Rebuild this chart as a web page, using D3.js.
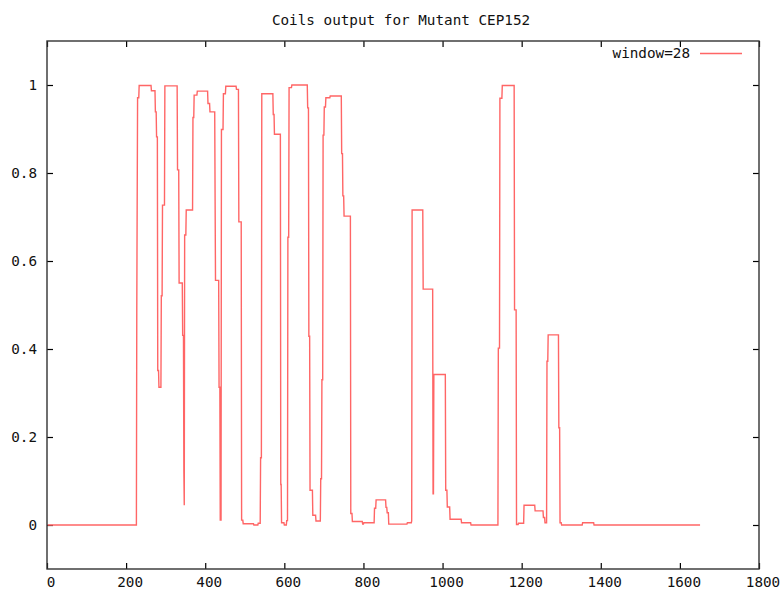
<!DOCTYPE html>
<html>
<head>
<meta charset="utf-8">
<script src="https://cdn.jsdelivr.net/npm/d3@7"></script>
<style>
  html, body { margin: 0; padding: 0; background: #fff; }
  svg { display: block; }
  text { font-family: "DejaVu Sans Mono", monospace; font-size: 14.3px; fill: #111; }
</style>
</head>
<body>
<svg id="chart" width="783" height="589"></svg>
<script>
// Coiled-coil probability per residue (window = 28), stored as the vertices of the profile
const residue = [
  1, 226, 227, 229, 232, 233, 263, 264, 273, 274, 276, 277, 279, 280, 282, 283, 288, 289, 291, 292,
  297, 298, 329, 330, 333, 334, 342, 343, 345, 346, 347, 348, 351, 352, 368, 369, 371, 372, 379, 380,
  406, 407, 411, 412, 424, 425, 426, 434, 435, 437, 438, 440, 441, 445, 446, 451, 452, 478, 479, 484,
  485, 491, 492, 495, 496, 522, 523, 533, 534, 539, 540, 542, 543, 571, 572, 574, 575, 590, 591, 592,
  593, 599, 600, 605, 606, 608, 609, 611, 612, 618, 619, 658, 659, 661, 662, 664, 665, 671, 672, 679,
  680, 691, 692, 694, 695, 697, 698, 700, 701, 704, 705, 715, 716, 744, 745, 747, 748, 750, 751, 767,
  768, 771, 772, 797, 798, 800, 801, 827, 828, 831, 832, 856, 857, 859, 860, 863, 864, 910, 911, 921,
  922, 923, 950, 951, 975, 976, 977, 978, 1007, 1008, 1011, 1012, 1018, 1019, 1047, 1048, 1071, 1072, 1140, 1141,
  1144, 1145, 1150, 1151, 1181, 1182, 1186, 1187, 1191, 1192, 1205, 1206, 1233, 1234, 1254, 1255, 1258, 1259, 1263, 1264,
  1266, 1267, 1293, 1294, 1296, 1297, 1300, 1301, 1353, 1354, 1382, 1383, 1651
];
const coil = [
  0, 0, 0.494, 0.971, 0.971, 0.999, 0.999, 0.987, 0.987, 0.939, 0.939, 0.882, 0.882, 0.351, 0.351, 0.313, 0.313, 0.521, 0.521, 0.727,
  0.727, 0.998, 0.998, 0.807, 0.807, 0.55, 0.55, 0.431, 0.431, 0.122, 0.045, 0.659, 0.659, 0.716, 0.716, 0.926, 0.926, 0.977, 0.977, 0.986,
  0.986, 0.958, 0.958, 0.939, 0.939, 0.736, 0.556, 0.556, 0.313, 0.313, 0.011, 0.011, 0.899, 0.899, 0.98, 0.98, 0.997, 0.997, 0.99, 0.99,
  0.689, 0.689, 0.011, 0.011, 0.003, 0.003, 0.0, 0.0, 0.004, 0.004, 0.153, 0.153, 0.98, 0.98, 0.933, 0.933, 0.888, 0.888, 0.092, 0.092,
  0.005, 0.005, 0.0, 0.0, 0.01, 0.01, 0.654, 0.654, 0.994, 0.994, 1.0, 1.0, 0.948, 0.948, 0.429, 0.429, 0.079, 0.079, 0.022, 0.022,
  0.009, 0.009, 0.105, 0.105, 0.33, 0.33, 0.886, 0.886, 0.95, 0.95, 0.971, 0.971, 0.975, 0.975, 0.844, 0.844, 0.748, 0.748, 0.702, 0.702,
  0.026, 0.026, 0.008, 0.008, 0.002, 0.002, 0.005, 0.005, 0.038, 0.038, 0.057, 0.057, 0.04, 0.04, 0.028, 0.028, 0.002, 0.002, 0.005, 0.005,
  0.01, 0.716, 0.716, 0.536, 0.536, 0.071, 0.071, 0.342, 0.342, 0.079, 0.079, 0.041, 0.041, 0.013, 0.013, 0.005, 0.005, 0.0, 0.0, 0.402,
  0.402, 0.97, 0.97, 0.999, 0.999, 0.489, 0.489, 0.001, 0.001, 0.004, 0.004, 0.045, 0.045, 0.032, 0.032, 0.017, 0.017, 0.005, 0.005, 0.372,
  0.372, 0.432, 0.432, 0.221, 0.221, 0.005, 0.005, 0.0, 0.0, 0.005, 0.005, 0.0, 0.0
];

const xTicks = [0, 200, 400, 600, 800, 1000, 1200, 1400, 1600, 1800];
const yTicks = [0, 0.2, 0.4, 0.6, 0.8, 1];
const xDomain = [0, 1800];
const yDomain = [-0.1, 1.1];
const titleText = "Coils output for Mutant CEP152";
const seriesLabel = "window=28";

const svg = d3.select("#chart");
const plot = { left: 47, right: 759, top: 41, bottom: 569 };
const lineColor = "#ff6666";
const frameColor = "#333";
const tickLen = 6;

const x = d3.scaleLinear().domain(xDomain).range([plot.left, plot.right]);
const y = d3.scaleLinear().domain(yDomain).range([plot.bottom, plot.top]);

// Title
svg.append("text")
  .attr("x", 401).attr("y", 25)
  .attr("text-anchor", "middle")
  .text(titleText);

// Ticks on all four sides (mirrored), pointing inward
const tickFmt = d => String(+d.toFixed(1));

const bottomAxis = d3.axisBottom(x).tickValues(xTicks).tickSize(-tickLen).tickFormat("");
const topAxis = d3.axisTop(x).tickValues(xTicks).tickSize(-tickLen).tickFormat("");
const leftAxis = d3.axisLeft(y).tickValues(yTicks).tickSize(-tickLen).tickFormat("");
const rightAxis = d3.axisRight(y).tickValues(yTicks).tickSize(-tickLen).tickFormat("");

function styleAxis(g) {
  g.select(".domain").remove();
  g.selectAll(".tick line").attr("stroke", "#000").attr("stroke-width", 1.2);
}
svg.append("g").attr("transform", `translate(0,${plot.bottom})`).call(bottomAxis).call(styleAxis);
svg.append("g").attr("transform", `translate(0,${plot.top})`).call(topAxis).call(styleAxis);
svg.append("g").attr("transform", `translate(${plot.left},0)`).call(leftAxis).call(styleAxis);
svg.append("g").attr("transform", `translate(${plot.right},0)`).call(rightAxis).call(styleAxis);

// Tick labels
svg.append("g").selectAll("text").data(xTicks).join("text")
  .attr("x", d => x(d) + 4)
  .attr("y", 587)
  .attr("text-anchor", "middle")
  .text(d => d);

svg.append("g").selectAll("text").data(yTicks).join("text")
  .attr("x", 37)
  .attr("y", d => y(d) + 5)
  .attr("text-anchor", "end")
  .text(tickFmt);

// Data line
const points = residue.map((r, i) => [r, coil[i]]);
const line = d3.line().x(d => x(d[0])).y(d => y(d[1]));

svg.append("path")
  .datum(points)
  .attr("fill", "none")
  .attr("stroke", lineColor)
  .attr("stroke-width", 1.4)
  .attr("stroke-linejoin", "miter")
  .attr("d", line);

// Frame
svg.append("rect")
  .attr("x", plot.left).attr("y", plot.top)
  .attr("width", plot.right - plot.left).attr("height", plot.bottom - plot.top)
  .attr("fill", "none")
  .attr("stroke", frameColor)
  .attr("stroke-width", 1.4);

// Legend
svg.append("text")
  .attr("x", 690).attr("y", 58)
  .attr("text-anchor", "end")
  .text(seriesLabel);
svg.append("line")
  .attr("x1", 700).attr("x2", 742)
  .attr("y1", 53.5).attr("y2", 53.5)
  .attr("stroke", lineColor)
  .attr("stroke-width", 1.4);
</script>
</body>
</html>
